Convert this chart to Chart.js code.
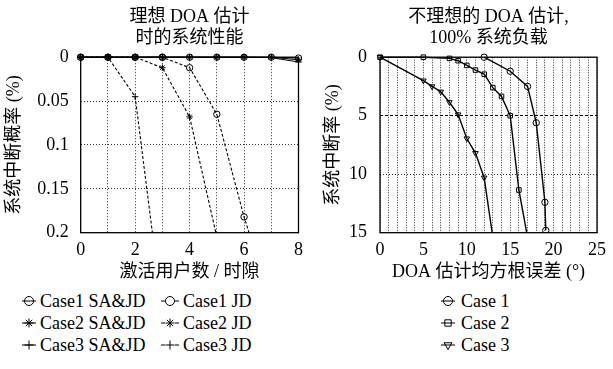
<!DOCTYPE html>
<html>
<head>
<meta charset="utf-8">
<script src="https://cdn.jsdelivr.net/npm/chart.js@4.4.1/dist/chart.umd.min.js"></script>
<style>
  html, body { margin: 0; padding: 0; background: #fff; }
  body { width: 613px; height: 369px; position: relative; overflow: hidden;
         font-family: "Liberation Serif", "Noto Sans CJK SC", serif; color: #000; }
  #wrap-left { position: absolute; left: 0; top: 0; width: 310px; height: 290px; }
  #wrap-right { position: absolute; left: 310px; top: 0; width: 303px; height: 290px; }
  .leg { position: absolute; font-size: 18px; line-height: 22px; height: 22px; white-space: nowrap; }
  .leg canvas { position: absolute; top: 4px; left: 0; }
  .leg span { position: absolute; top: 0; }
</style>
</head>
<body>
<div id="wrap-left"><canvas id="chart-left"></canvas></div>
<div id="wrap-right"><canvas id="chart-right"></canvas></div>
<div id="legend"></div>
<script>
'use strict';

// 左图: 理想 DOA 估计, 中断概率 vs 激活用户数
const userSlots = [0, 1, 2, 3, 4, 5, 6, 7, 8];
const case1SAJD = [0, 0, 0, 0, 0, 0, 0, 0, 0.001];
const case2SAJD = [0, 0, 0, 0, 0, 0, 0, 0, 0.003];
const case3SAJD = [0, 0, 0, 0, 0, 0, 0, 0.0005, 0.0055];
const case1JD = [0, 0, 0, 0, 0.012, 0.065, 0.182, 0.28, null];
const case2JD = [0, 0, 0, 0.012, 0.068, 0.205, null, null, null];
const case3JD = [0, 0, 0.045, 0.29, null, null, null, null, null];
const leftYTicks = [0, 0.05, 0.1, 0.15, 0.2];
const leftXLabels = [0, 2, 4, 6, 8];

// 右图: 不理想 DOA 估计, 中断率 vs DOA 均方根误差
const rmse1 = [12, 15, 17, 18, 19, 19.1];
const outage1 = [0, 1.2, 2.5, 5.6, 12.4, 14.8];
const rmse2 = [0, 5, 8, 9, 10, 11, 12, 13, 14, 15, 16, 17];
const outage2 = [0, 0, 0.1, 0.3, 0.7, 1.1, 1.45, 2.6, 3.35, 5.0, 11.35, 15.4];
const rmse3 = [0, 5, 6, 7, 8, 9, 10, 11, 12, 13];
const outage3 = [0, 2.0, 2.5, 2.95, 3.85, 4.9, 6.95, 8.2, 10.3, 15.4];
const rightYTicks = [0, 5, 10, 15];
const rightXLabels = [0, 5, 10, 15, 20, 25];

const FAMILY = '"Liberation Serif", "Noto Sans CJK SC", serif';
const font = { family: FAMILY, size: 18, weight: 'normal', lineHeight: 1.2 };
const GRID = '#333';

// box around the plot area, under the data
const frame = {
    id: 'frame',
    beforeDatasetsDraw(chart) {
        const { ctx, chartArea: a } = chart;
        ctx.save();
        ctx.strokeStyle = '#000';
        ctx.lineWidth = 1.3;
        ctx.strokeRect(a.left, a.top, a.right - a.left, a.bottom - a.top);
        ctx.restore();
    }
};

function series(label, xs, ys, style, dashed, width, rotation) {
    const data = [];
    xs.forEach((x, i) => { if (ys[i] !== null) data.push({ x, y: ys[i] }); });
    return {
        label,
        data,
        borderColor: '#000',
        borderWidth: width,
        borderDash: dashed ? [3, 2] : [],
        pointStyle: style,
        pointRadius: 3.2,
        pointRotation: rotation || 0,
        pointBorderColor: '#000',
        pointBackgroundColor: 'rgba(0,0,0,0)',
        pointBorderWidth: 1,
        tension: 0,
        clip: { left: 6, top: 6, right: 6, bottom: 0 }
    };
}

function baseOptions(title, padRight) {
    return {
        responsive: true,
        maintainAspectRatio: false,
        animation: false,
        layout: { padding: { left: 0, top: 0, right: padRight, bottom: 0 } },
        plugins: {
            legend: { display: false },
            tooltip: { enabled: false },
            title: {
                display: true, text: title, fullSize: false, color: '#000',
                font, padding: { top: 6, bottom: 8 }
            }
        }
    };
}

function makeLeft() {
    const opts = baseOptions(['理想 DOA 估计', '时的系统性能'], 7.3);
    opts.scales = {
        x: {
            type: 'linear', min: 0, max: 8,
            afterBuildTicks: s => { s.ticks = userSlots.map(v => ({ value: v })); },
            afterFit: s => { s.height = 57.3; },
            ticks: {
                autoSkip: false, maxRotation: 0, padding: 7, font, color: '#000',
                callback: v => leftXLabels.includes(v) ? String(v) : ''
            },
            grid: { color: GRID, lineWidth: 1, drawTicks: false },
            border: { display: false, dash: [1, 2] },
            title: { display: true, text: '激活用户数 / 时隙', font, color: '#000', padding: { top: 0, bottom: 7 } }
        },
        y: {
            type: 'linear', reverse: true, min: 0, max: 0.2,
            afterBuildTicks: s => { s.ticks = leftYTicks.map(v => ({ value: v })); },
            afterFit: s => { s.width = 80.7; },
            ticks: { padding: 12, font, color: '#000', callback: v => String(v) },
            grid: { color: GRID, lineWidth: 1, drawTicks: false },
            border: { display: false, dash: [1, 2] },
            title: { display: true, text: '系统中断概率 (%)', font, color: '#000', padding: { top: 3, bottom: 0 } }
        }
    };
    new Chart(document.getElementById('chart-left'), {
        type: 'line',
        data: {
            datasets: [
                series('Case1 SA&JD', userSlots, case1SAJD, 'circle', false, 1),
                series('Case2 SA&JD', userSlots, case2SAJD, 'star', false, 1),
                series('Case3 SA&JD', userSlots, case3SAJD, 'cross', false, 1),
                series('Case1 JD', userSlots, case1JD, 'circle', true, 1.1),
                series('Case2 JD', userSlots, case2JD, 'star', true, 1.1),
                series('Case3 JD', userSlots, case3JD, 'cross', true, 1.1)
            ]
        },
        options: opts,
        plugins: [frame]
    });
}

function makeRight() {
    const opts = baseOptions(['不理想的 DOA 估计,', '100% 系统负载'], 10.3);
    opts.scales = {
        x: {
            type: 'linear', min: 0, max: 25,
            afterFit: s => { s.height = 57.3; },
            ticks: {
                stepSize: 1, autoSkip: false, maxRotation: 0, padding: 7, font, color: '#000',
                callback: v => rightXLabels.includes(v) ? String(v) : ''
            },
            grid: { color: GRID, lineWidth: 1, drawTicks: false },
            border: { display: false, dash: [1, 1.5] },
            title: { display: true, text: 'DOA 估计均方根误差 (°)', font, color: '#000', padding: { top: 0, bottom: 7 } }
        },
        y: {
            type: 'linear', reverse: true, min: 0, max: 15,
            afterBuildTicks: s => { s.ticks = rightYTicks.map(v => ({ value: v })); },
            afterFit: s => { s.width = 70; },
            ticks: { padding: 13, font, color: '#000', callback: v => String(v) },
            grid: {
                color: c => c.tick && c.tick.value === 5 ? '#000' : GRID,
                lineWidth: 1, drawTicks: false
            },
            border: { display: false, dash: c => c.tick && c.tick.value === 5 ? [3, 2] : [1, 2] },
            title: { display: true, text: '系统中断率 (%)', font, color: '#000', padding: { top: 12.7, bottom: 0 } }
        }
    };
    new Chart(document.getElementById('chart-right'), {
        type: 'line',
        data: {
            datasets: [
                series('Case 1', rmse1, outage1, 'circle', false, 1.4),
                series('Case 2', rmse2, outage2, 'rect', false, 1.4),
                series('Case 3', rmse3, outage3, 'triangle', false, 1.4, 180)
            ]
        },
        options: opts,
        plugins: [frame]
    });
}

// legend entries: [text, pointStyle, dashed, rotation, sampleLeft, textLeft, row]
const legendRows = [301, 323, 345];
const legendItems = [
    ['Case1 SA&JD', 'circle', false, 0, 22, 40, 0],
    ['Case2 SA&JD', 'star', false, 0, 22, 40, 1],
    ['Case3 SA&JD', 'cross', false, 0, 22, 40, 2],
    ['Case1 JD', 'circle', true, 0, 161, 183, 0],
    ['Case2 JD', 'star', true, 0, 161, 183, 1],
    ['Case3 JD', 'cross', true, 0, 161, 183, 2],
    ['Case 1', 'circle', false, 0, 441, 461, 0],
    ['Case 2', 'rect', false, 0, 441, 461, 1],
    ['Case 3', 'triangle', false, 180, 441, 461, 2]
];

function drawSample(cv, style, dashed, rotation) {
    const ctx = cv.getContext('2d');
    const w = cv.width, cy = cv.height / 2;
    ctx.strokeStyle = '#000';
    ctx.fillStyle = 'rgba(0,0,0,0)';
    ctx.lineWidth = 1;
    ctx.beginPath();
    if (dashed) {
        ctx.moveTo(0, cy); ctx.lineTo(4, cy);
        ctx.moveTo(w - 4, cy); ctx.lineTo(w, cy);
    } else {
        ctx.moveTo(0, cy); ctx.lineTo(w, cy);
    }
    ctx.stroke();
    Chart.helpers.drawPoint(ctx, { pointStyle: style, radius: 4.5, rotation, borderWidth: 1 }, w / 2, cy);
}

function makeLegend() {
    const root = document.getElementById('legend');
    legendItems.forEach(([text, style, dashed, rot, sx, tx, row]) => {
        const item = document.createElement('div');
        item.className = 'leg';
        item.style.left = sx + 'px';
        item.style.top = (legendRows[row] - 11) + 'px';
        const cv = document.createElement('canvas');
        cv.width = dashed ? 18 : 14;
        cv.height = 14;
        item.appendChild(cv);
        const span = document.createElement('span');
        span.textContent = text;
        span.style.left = (tx - sx) + 'px';
        item.appendChild(span);
        root.appendChild(item);
        drawSample(cv, style, dashed, rot);
    });
}

makeLeft();
makeRight();
makeLegend();
</script>
</body>
</html>
